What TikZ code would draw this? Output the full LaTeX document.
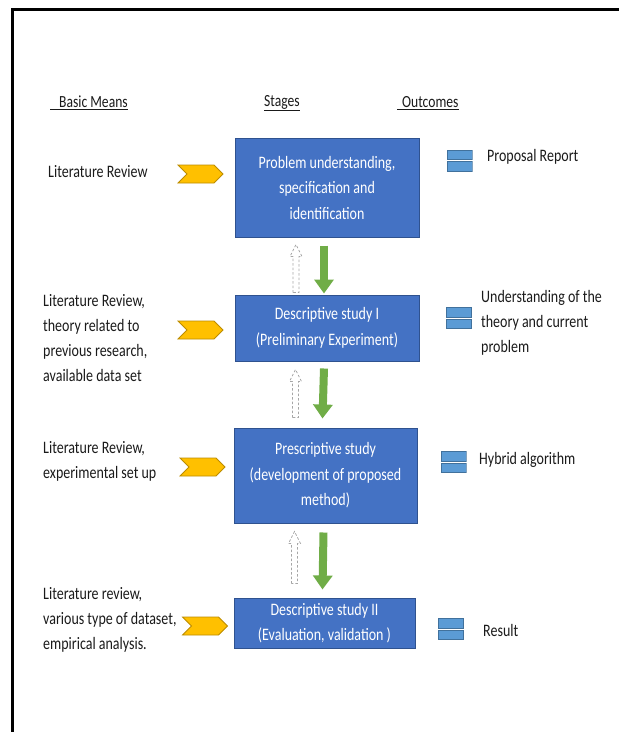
\documentclass[tikz,border=0pt]{standalone}
\usepackage{fontspec}
\setmainfont{Carlito}
\newfontfamily\condfont{Carlito}[FakeStretch=0.8]
\usetikzlibrary{arrows.meta,shapes.symbols,calc}
\definecolor{boxblue}{HTML}{4472C4}
\definecolor{boxedge}{HTML}{2F528F}
\definecolor{chevfill}{HTML}{FFC000}
\definecolor{chevedge}{HTML}{BC8C00}
\definecolor{arrgreen}{HTML}{70AD47}
\definecolor{iconblue}{HTML}{5B9BD5}
\definecolor{iconedge}{HTML}{41719C}
\definecolor{txt}{HTML}{1A1A1A}
\begin{document}
\begin{tikzpicture}[x=1pt,y=-1pt,
  stagebox/.style={draw=boxedge, line width=1pt, fill=boxblue, text=white,
    align=center, inner sep=0pt, font=\condfont\fontsize{17.5}{25.5}\selectfont},
  header/.style={inner sep=0pt, text=txt, font=\condfont\fontsize{17}{18}\selectfont},
  sidetext/.style={anchor=west, align=left, inner sep=0pt, text=txt,
    font=\condfont\fontsize{17.5}{25}\selectfont},
  chev/.style={signal, signal to=east, signal from=west, draw=chevedge,
    fill=chevfill, line width=0.8pt, minimum width=45pt, minimum height=18pt,
    inner sep=0pt},
  eqicon/.style={minimum width=26pt, minimum height=22pt, inner sep=0pt,
    path picture={
      \draw[fill=iconblue, draw=iconedge, line width=0.8pt]
        ($(path picture bounding box.north west)+(0.5,0.5)$) rectangle
        ($(path picture bounding box.east)+(-0.5,-1)$);
      \draw[fill=iconblue, draw=iconedge, line width=0.8pt]
        ($(path picture bounding box.west)+(0.5,1)$) rectangle
        ($(path picture bounding box.south east)+(-0.5,-0.5)$);
    }},
  garrow/.style={draw=arrgreen, line width=8pt,
    -{Triangle[length=14pt 0, width=19pt 0]}},
  dasharr/.style={draw=gray!70, line width=0.7pt, dash pattern=on 2.5pt off 2pt}
]
\useasboundingbox (0,0) rectangle (619,732);
% frame (top and left edges)
\draw[line width=3pt] (12.5,732) -- (12.5,9) -- (619,9);

% headers
\node[header, anchor=west] (h1) at (50,103) {\underline{\hspace{9pt}Basic Means}};
\node[header] (h2) at (282,103) {\underline{Stages}};
\node[header, anchor=west] (h3) at (397,103) {\underline{\hspace{5pt}Outcomes}};

% stage boxes
\node[stagebox, minimum width=184pt, minimum height=99pt] (b1) at (327,187.5)
  {Problem understanding,\\specification and\\identification};
\node[stagebox, minimum width=184pt, minimum height=66pt] (b2) at (327,328)
  {Descriptive study I\\(Preliminary Experiment)};
\node[stagebox, minimum width=183pt, minimum height=95pt] (b3) at (325.5,475.5)
  {Prescriptive study\\(development of proposed\\method)};
\node[stagebox, minimum width=181pt, minimum height=50pt] (b4) at (324.5,623)
  {Descriptive study II\\(Evaluation, validation )};

% basic means
\node[sidetext] (m1) at (48,172) {Literature Review};
\node[sidetext] (m2) at (43,338) {Literature Review,\\theory related to\\previous research,\\available data set};
\node[sidetext] (m3) at (43,461) {Literature Review,\\experimental set up};
\node[sidetext] (m4) at (43,620) {Literature review,\\various type of dataset,\\empirical analysis.};

% chevrons
\node[chev] (c1) at (200.5,174) {};
\node[chev] (c2) at (200.5,330) {};
\node[chev] (c3) at (202.5,467) {};
\node[chev] (c4) at (205,626) {};

% outcome icons
\node[eqicon] (i1) at (459.5,160.5) {};
\node[eqicon] (i2) at (459,318) {};
\node[eqicon] (i3) at (453.5,462) {};
\node[eqicon] (i4) at (451,629) {};

% outcomes
\node[sidetext] (o1) at (487,157) {Proposal Report};
\node[sidetext] (o2) at (481,323) {Understanding of the\\theory and current\\problem};
\node[sidetext] (o3) at (479,460) {Hybrid algorithm};
\node[sidetext] (o4) at (483,630) {Result};

% green arrows
\draw[garrow] ($(b1.south)+(-3,8)$) -- ($(b2.north)+(-3,-1)$);
\draw[garrow] ($(b2.south)+(-3,7)$) -- ($(b3.north)+(-3,-9)$);
\draw[garrow] ($(b3.south)+(-2,9)$) -- ($(b4.north)+(-2,-8)$);

% dashed feedback arrows
\coordinate (d1) at ($(b2.north)+(-31,-2)$);
\coordinate (d2) at ($(b3.north)+(-30,-10)$);
\coordinate (d3) at ($(b4.north)+(-30,-14)$);
\foreach \d/\h in {d1/36,d2/36,d3/40}{
  \draw[dasharr] (\d) ++(-3,0) -- ++(0,-\h) -- ++(-3,0) -- ++(6,-12)
    -- ++(6,12) -- ++(-3,0) -- ++(0,\h) -- cycle;
}
\end{tikzpicture}
\end{document}
